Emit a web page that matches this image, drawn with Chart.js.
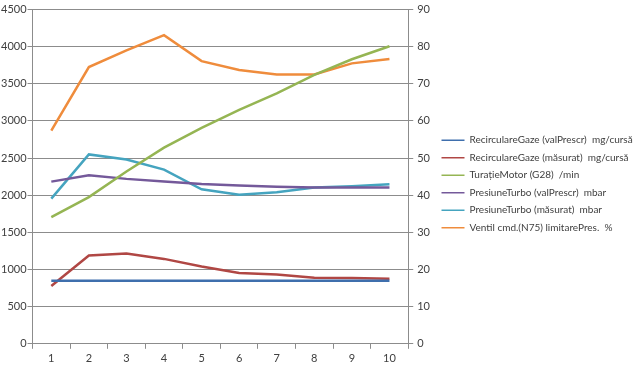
<!DOCTYPE html>
<html>
<head>
<meta charset="utf-8">
<script src="https://cdn.jsdelivr.net/npm/chart.js@4"></script>
<style>
  body { margin: 0; background: #fff; }
  #wrap { width: 640px; height: 368px; position: relative; }
</style>
</head>
<body>
<div id="wrap"><canvas id="chart" width="640" height="368"></canvas></div>
<script>
// categorii (axa X)
const categories = ['1', '2', '3', '4', '5', '6', '7', '8', '9', '10'];

// serii pe axa stanga
const recircValPrescr = [850, 850, 850, 850, 850, 850, 850, 850, 850, 850];
const recircMasurat = [778, 1188, 1215, 1143, 1040, 952, 933, 888, 885, 875];
const turatieMotor = [1705, 1975, 2320, 2640, 2906, 3150, 3370, 3620, 3830, 4005];
const presiuneValPrescr = [2183, 2270, 2220, 2185, 2150, 2130, 2115, 2105, 2105, 2105];
const presiuneMasurat = [1955, 2549, 2480, 2345, 2080, 2005, 2040, 2103, 2120, 2147];

// serie pe axa dreapta (%)
const ventilN75 = [57.4, 74.5, 79.0, 83.1, 76.1, 73.7, 72.5, 72.5, 75.5, 76.7];

const seriesNames = [
    'RecirculareGaze (valPrescr)  mg/cursă',
    'RecirculareGaze (măsurat)  mg/cursă',
    'TurațieMotor (G28)  /min',
    'PresiuneTurbo (valPrescr)  mbar',
    'PresiuneTurbo (măsurat)  mbar',
    'Ventil cmd.(N75) limitarePres.  %'
];
const seriesColors = ['#3f6fad', '#b04744', '#95b553', '#74599a', '#45a4bf', '#ef8c3c'];

const axisColor = '#8c8c8c';
const textColor = '#404040';
const fontFamily = 'Lato, "Open Sans", sans-serif';

const allData = [recircValPrescr, recircMasurat, turatieMotor, presiuneValPrescr, presiuneMasurat, ventilN75];

const datasets = allData.map((d, i) => ({
    label: seriesNames[i],
    data: d,
    borderColor: seriesColors[i],
    backgroundColor: seriesColors[i],
    borderWidth: 2.5,
    pointRadius: 0,
    tension: 0,
    fill: false,
    yAxisID: i === 5 ? 'y1' : 'y'
}));

const ctx = document.getElementById('chart').getContext('2d');
new Chart(ctx, {
    type: 'line',
    data: { labels: categories, datasets: datasets },
    options: {
        responsive: false,
        animation: false,
        layout: { padding: { top: 0, right: 0, left: 0, bottom: 0 } },
        plugins: {
            tooltip: { enabled: false },
            legend: {
                position: 'right',
                align: 'center',
                maxWidth: 206,
                labels: {
                    usePointStyle: true,
                    pointStyle: 'line',
                    pointStyleWidth: 23,
                    padding: 7.5,
                    color: textColor,
                    font: { family: fontFamily, size: 10 },
                    generateLabels: function (chart) {
                        const items = Chart.defaults.plugins.legend.labels.generateLabels(chart);
                        items.forEach(it => { it.lineWidth = 1.5; it.pointStyle = 'line'; });
                        return items;
                    }
                }
            }
        },
        scales: {
            x: {
                offset: true,
                grid: {
                    offset: true,
                    drawOnChartArea: false,
                    drawTicks: true,
                    tickLength: 5,
                    color: axisColor
                },
                border: { color: axisColor, width: 1 },
                ticks: { color: textColor, font: { family: fontFamily, size: 11 }, padding: 3, maxRotation: 0 }
            },
            y: {
                position: 'left',
                min: 0,
                max: 4500,
                ticks: {
                    stepSize: 500, color: textColor, font: { family: fontFamily, size: 11, lineHeight: 1 }, padding: 1,
                    callback: v => String(v)
                },
                grid: { color: axisColor, tickLength: 5, lineWidth: 1 },
                border: { color: axisColor, width: 1 }
            },
            y1: {
                position: 'right',
                min: 0,
                max: 90,
                ticks: { stepSize: 10, color: textColor, font: { family: fontFamily, size: 11, lineHeight: 1 }, padding: 4 },
                grid: { drawOnChartArea: false, color: axisColor, tickLength: 5 },
                border: { color: axisColor, width: 1 }
            }
        }
    }
});
</script>
</body>
</html>
